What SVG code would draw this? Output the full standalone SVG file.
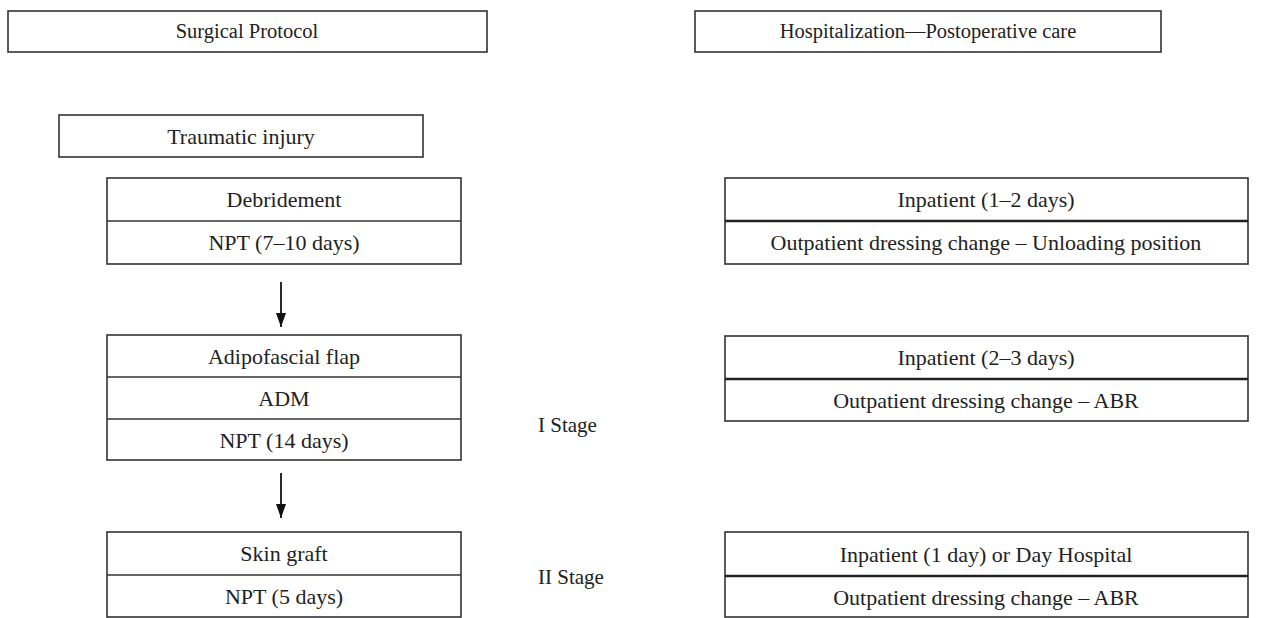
<svg xmlns="http://www.w3.org/2000/svg" width="1283" height="618" viewBox="0 0 1283 618">
<style>
.box{fill:#fff;stroke:#333;stroke-width:1.6}
.div{stroke:#333;stroke-width:1.6}
.divb{stroke:#222;stroke-width:2.6}
.h{font-family:"Liberation Serif","Times New Roman",serif;font-size:20.5px;fill:#222;text-anchor:middle;dominant-baseline:central}
.t{font-family:"Liberation Serif","Times New Roman",serif;font-size:22px;fill:#222;text-anchor:middle;dominant-baseline:central}
.s{font-family:"Liberation Serif","Times New Roman",serif;font-size:21px;fill:#222;dominant-baseline:central}
.c{stroke:#111;stroke-width:1.8;fill:none}
</style>
<defs>
<marker id="ah" markerWidth="14" markerHeight="10" refX="14" refY="5" orient="auto" markerUnits="userSpaceOnUse" viewBox="0 0 14 10">
<path d="M0,0 L14,5 L0,10 Z" fill="#111"/>
</marker>
</defs>
<g id="surgical-protocol">
<rect class="box" x="8" y="11" width="479" height="41"/>
<text class="h" x="247" y="31">Surgical Protocol</text>
</g>
<g id="hospitalization">
<rect class="box" x="695" y="11" width="466" height="41"/>
<text class="h" x="928" y="31">Hospitalization—Postoperative care</text>
</g>
<g id="traumatic-injury">
<rect class="box" x="59" y="115" width="364" height="42"/>
<text class="t" x="241" y="136">Traumatic injury</text>
</g>
<g id="debridement">
<rect class="box" x="107" y="178" width="354" height="86"/>
<line class="div" x1="107" y1="221" x2="461" y2="221"/>
<text class="t" x="284" y="199">Debridement</text>
<text class="t" x="284" y="242">NPT (7–10 days)</text>
</g>
<g id="adipofascial">
<rect class="box" x="107" y="335" width="354" height="125"/>
<line class="div" x1="107" y1="377" x2="461" y2="377"/>
<line class="div" x1="107" y1="419" x2="461" y2="419"/>
<text class="t" x="284" y="356">Adipofascial flap</text>
<text class="t" x="284" y="398">ADM</text>
<text class="t" x="284" y="440">NPT (14 days)</text>
</g>
<g id="stage1">
<text class="s" x="538" y="425">I Stage</text>
</g>
<g id="skin-graft">
<rect class="box" x="107" y="532" width="354" height="85"/>
<line class="div" x1="107" y1="575" x2="461" y2="575"/>
<text class="t" x="284" y="553">Skin graft</text>
<text class="t" x="284" y="596">NPT (5 days)</text>
</g>
<g id="stage2">
<text class="s" x="538" y="577">II Stage</text>
</g>
<g id="inpatient-1">
<rect class="box" x="725" y="178" width="523" height="86"/>
<line class="divb" x1="725" y1="221" x2="1248" y2="221"/>
<text class="t" x="986" y="199">Inpatient (1–2 days)</text>
<text class="t" x="986" y="242">Outpatient dressing change – Unloading position</text>
</g>
<g id="inpatient-2">
<rect class="box" x="725" y="336" width="523" height="85"/>
<line class="divb" x1="725" y1="379" x2="1248" y2="379"/>
<text class="t" x="986" y="357">Inpatient (2–3 days)</text>
<text class="t" x="986" y="400">Outpatient dressing change – ABR</text>
</g>
<g id="inpatient-3">
<rect class="box" x="725" y="532" width="523" height="85"/>
<line class="divb" x1="725" y1="576" x2="1248" y2="576"/>
<text class="t" x="986" y="554">Inpatient (1 day) or Day Hospital</text>
<text class="t" x="986" y="597">Outpatient dressing change – ABR</text>
</g>
<g id="connectors">
<line class="c" x1="281" y1="282" x2="281" y2="327" marker-end="url(#ah)"/>
<line class="c" x1="281" y1="473" x2="281" y2="518" marker-end="url(#ah)"/>
</g>
</svg>
